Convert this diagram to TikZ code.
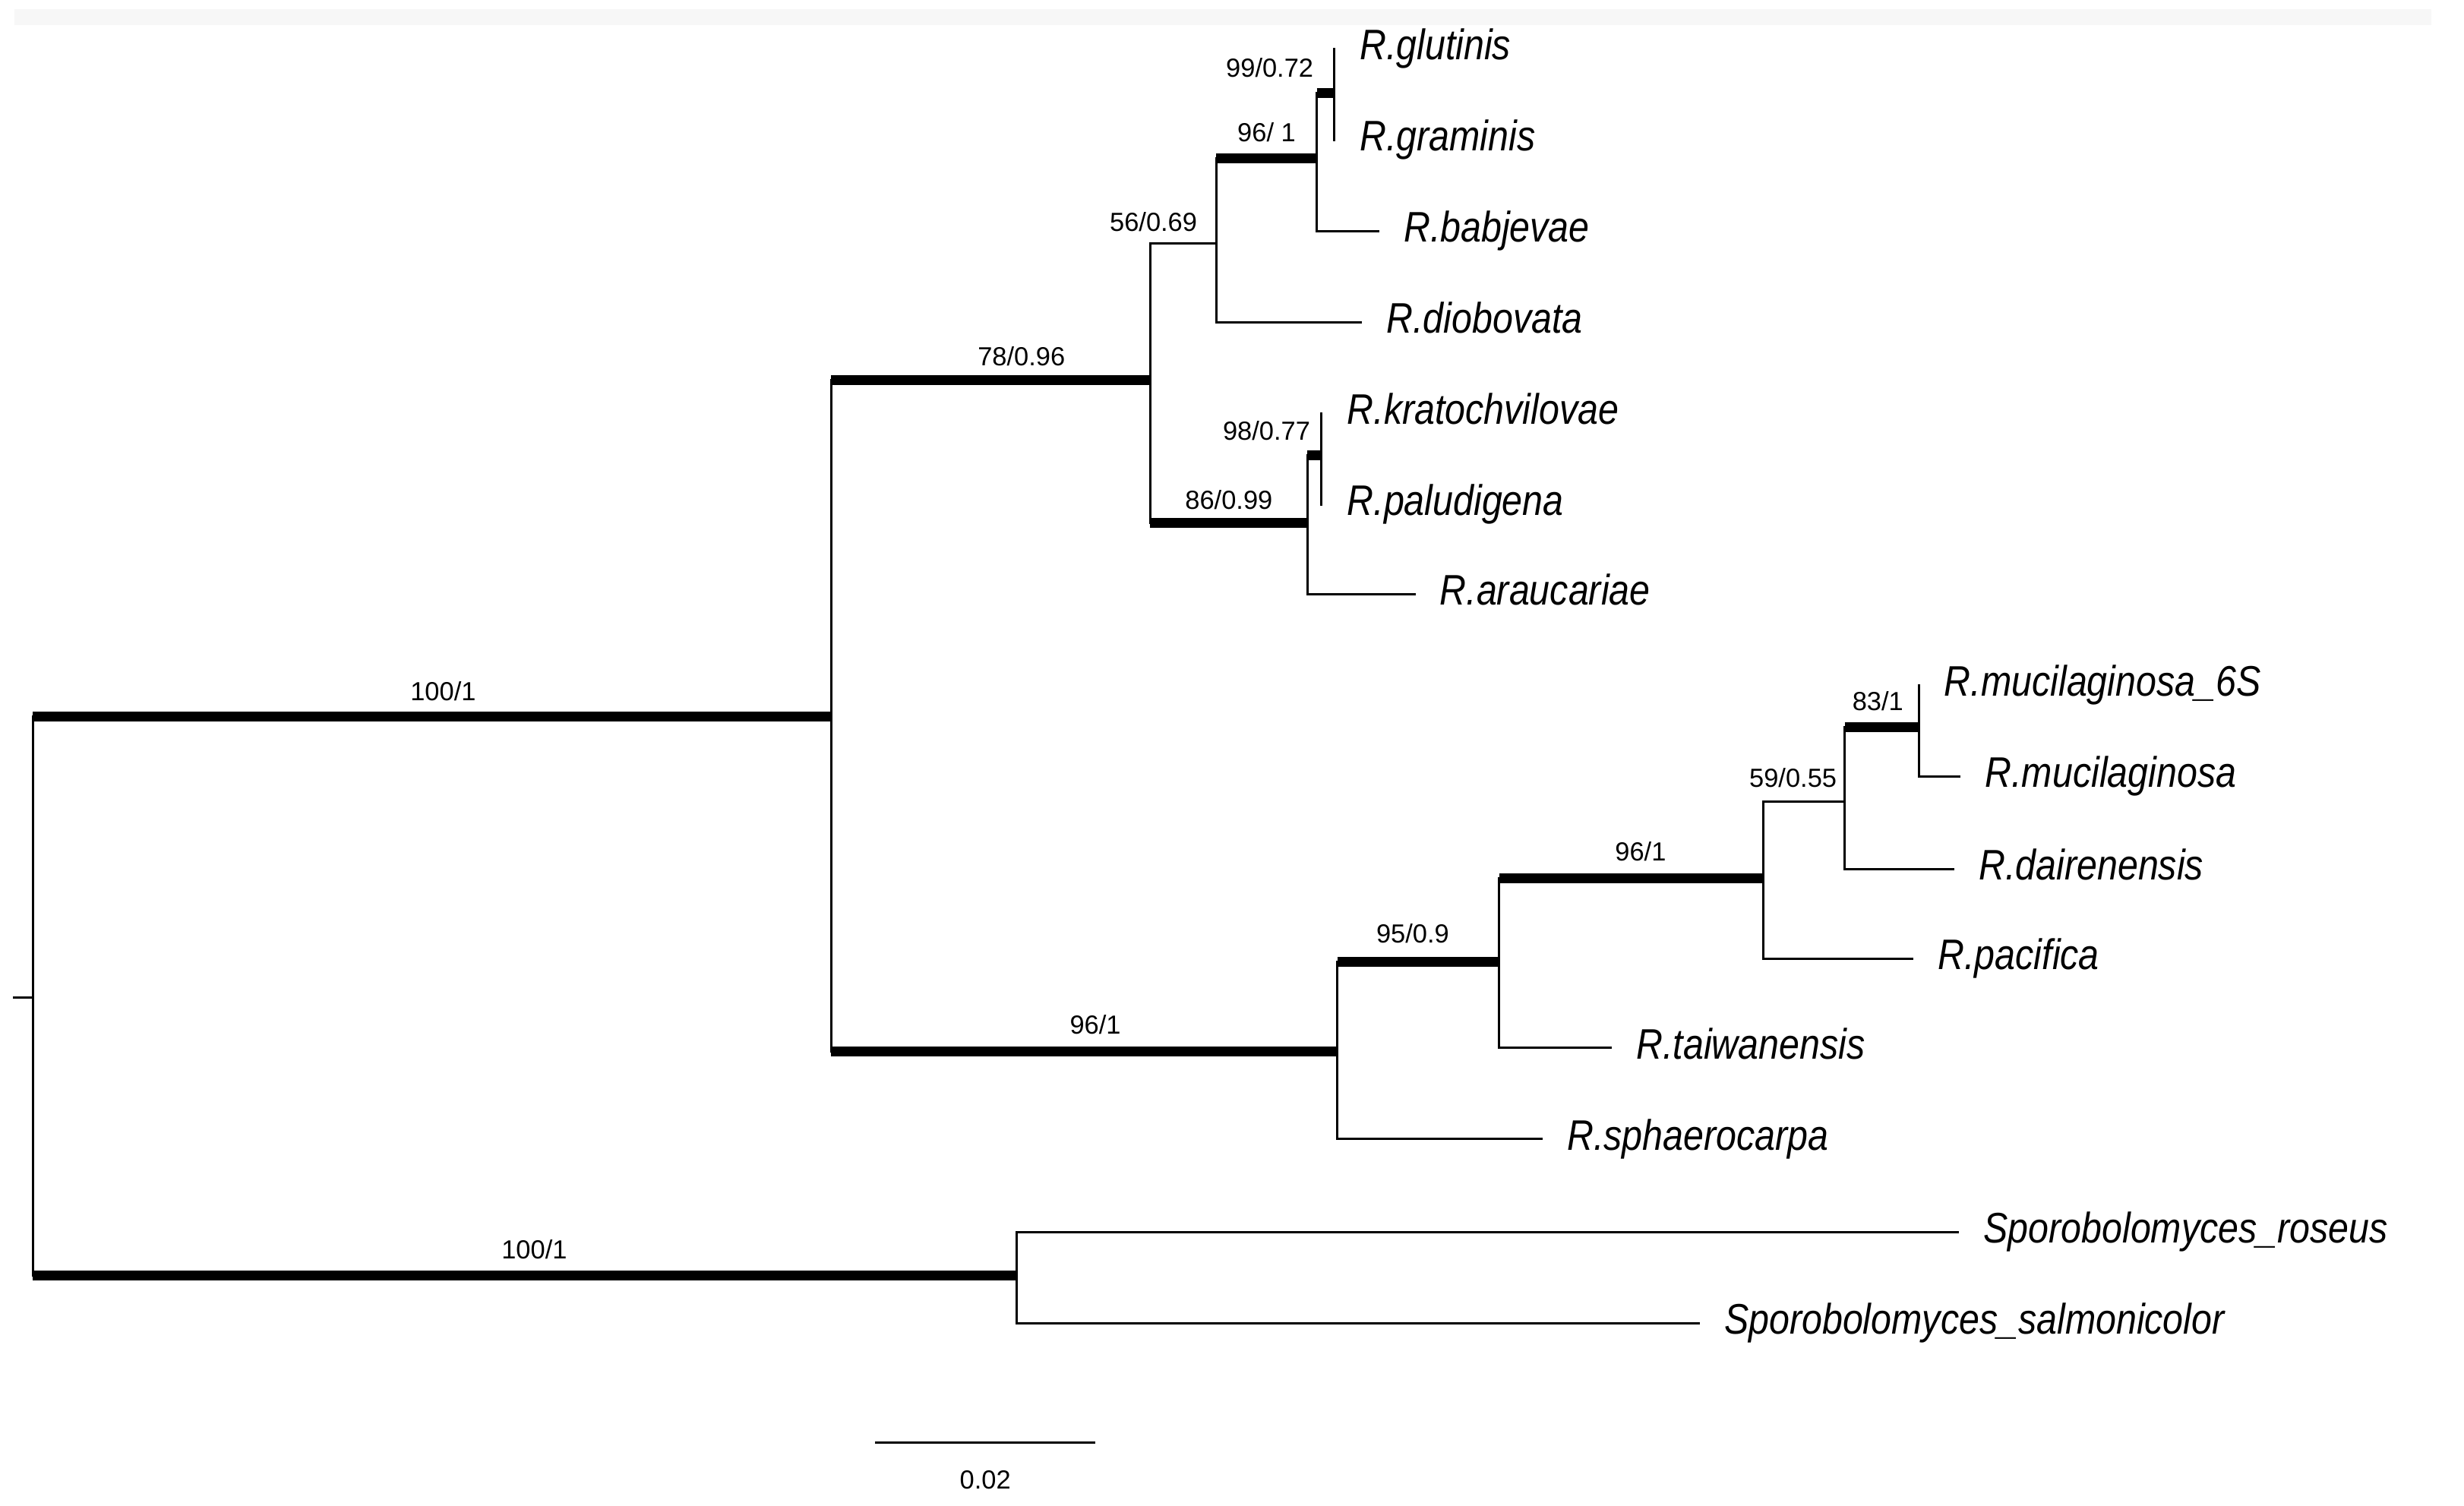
\documentclass[tikz,border=0pt]{standalone}
\usepackage{fontspec}
\setmainfont{Liberation Sans}
\newfontfamily\taxfont[FakeStretch=0.86]{Liberation Sans}
\usetikzlibrary{positioning}

\begin{document}
\begin{tikzpicture}[x=0.2069mm,y=-0.2069mm,
  ast/.style={line width=0.3mm,line cap=rect},
  stark/.style={line width=1.3mm,line cap=butt},
  taxon/.style={anchor=base west,inner sep=0pt,xshift=3.3mm,yshift=-1.45mm,
    font=\taxfont\itshape\fontsize{16}{19}\selectfont},
  stuetz/.style={inner sep=0pt,font=\fontsize{9.8}{11}\selectfont}]
\useasboundingbox (0,0) rectangle (1568,958);
%blasser Streifen oben
\fill[black!3] (9,6) rectangle (1547,16);

%innere Knoten (x vom Knoten, y vom Ast)
\coordinate (W) at (21,635);
\coordinate (N1) at (529,456);
\coordinate (N2) at (732,242);
\coordinate (N3) at (774,155);
\coordinate (N4) at (838,101);
\coordinate (N5) at (849,59);
\coordinate (N6) at (832,333);
\coordinate (N7) at (841,290);
\coordinate (N8) at (851,669);
\coordinate (N9) at (954,612);
\coordinate (N10) at (1122,559);
\coordinate (N11) at (1174,510);
\coordinate (N12) at (1221,463);
\coordinate (N13) at (647,812);
%Blattenden
\coordinate (glut) at (849,31);
\coordinate (gram) at (849,89);
\coordinate (babj) at (877,147);
\coordinate (diob) at (866,205);
\coordinate (krat) at (841,263);
\coordinate (palu) at (841,321);
\coordinate (arau) at (900,378);
\coordinate (muc6) at (1221,436);
\coordinate (muci) at (1247,494);
\coordinate (dair) at (1243,553);
\coordinate (paci) at (1217,610);
\coordinate (taiw) at (1025,667);
\coordinate (spha) at (981,725);
\coordinate (rose) at (1246,784);
\coordinate (salm) at (1081,842);

%senkrechte Linien
\foreach \k/\a/\b in {W/N1/N13, N1/N2/N8, N2/N3/N6, N3/N4/diob, N4/N5/babj,
  N5/glut/gram, N6/N7/arau, N7/krat/palu, N8/N9/spha, N9/N10/taiw,
  N10/N11/paci, N11/N12/dair, N12/muc6/muci, N13/rose/salm}{
\draw[ast] (\k |- \a) -- (\k |- \b);
}
%gut gestuetzte Aeste dick
\foreach \p/\c in {W/N1, W/N13, N1/N2, N1/N8, N2/N6, N3/N4, N4/N5,
  N6/N7, N8/N9, N9/N10, N11/N12}{
\draw[stark] (\p |- \c) -- (\c);
}
\foreach \p/\c in {N2/N3, N10/N11, N3/diob, N4/babj, N6/arau, N12/muci,
  N11/dair, N10/paci, N9/taiw, N8/spha, N13/rose, N13/salm}{
\draw[ast] (\p |- \c) -- (\c);
}
\draw[ast] (W) -- ++(-12,0);

%Artnamen
\foreach \t/\n in {glut/R.glutinis, gram/R.graminis, babj/R.babjevae,
  diob/R.diobovata, krat/R.kratochvilovae, palu/R.paludigena,
  arau/R.araucariae, muc6/R.mucilaginosa\_6S, muci/R.mucilaginosa,
  dair/R.dairenensis, paci/R.pacifica, taiw/R.taiwanensis,
  spha/R.sphaerocarpa, rose/Sporobolomyces\_roseus,
  salm/Sporobolomyces\_salmonicolor}{
\node[taxon] (l\t) at (\t) {\n};
}

%Bootstrap / Posterior
\node[stuetz] (s1) at (282,440) {100/1};
\node[stuetz] (s2) at (340,795) {100/1};
\node[stuetz] (s3) at (650,227) {78/0.96};
\node[stuetz] (s4) at (697,652) {96/1};
\node[stuetz] (s5) at (734,141) {56/0.69};
\node[stuetz] (s6) at (806,84) {96/ 1};
\node[stuetz] (s7) at (808,43) {99/0.72};
\node[stuetz] (s8) at (806,274) {98/0.77};
\node[stuetz] (s9) at (782,318) {86/0.99};
\node[stuetz] (s10) at (899,594) {95/0.9};
\node[stuetz] (s11) at (1044,542) {96/1};
\node[stuetz] (s12) at (1141,495) {59/0.55};
\node[stuetz] (s13) at (1195,446) {83/1};

%Massstab
\coordinate (m0) at (557,918);
\coordinate (m1) at (697,918);
\draw[ast,line cap=butt] (m0) -- node[stuetz,below=3.6mm] (mtext) {0.02} (m1);
\end{tikzpicture}
\end{document}
